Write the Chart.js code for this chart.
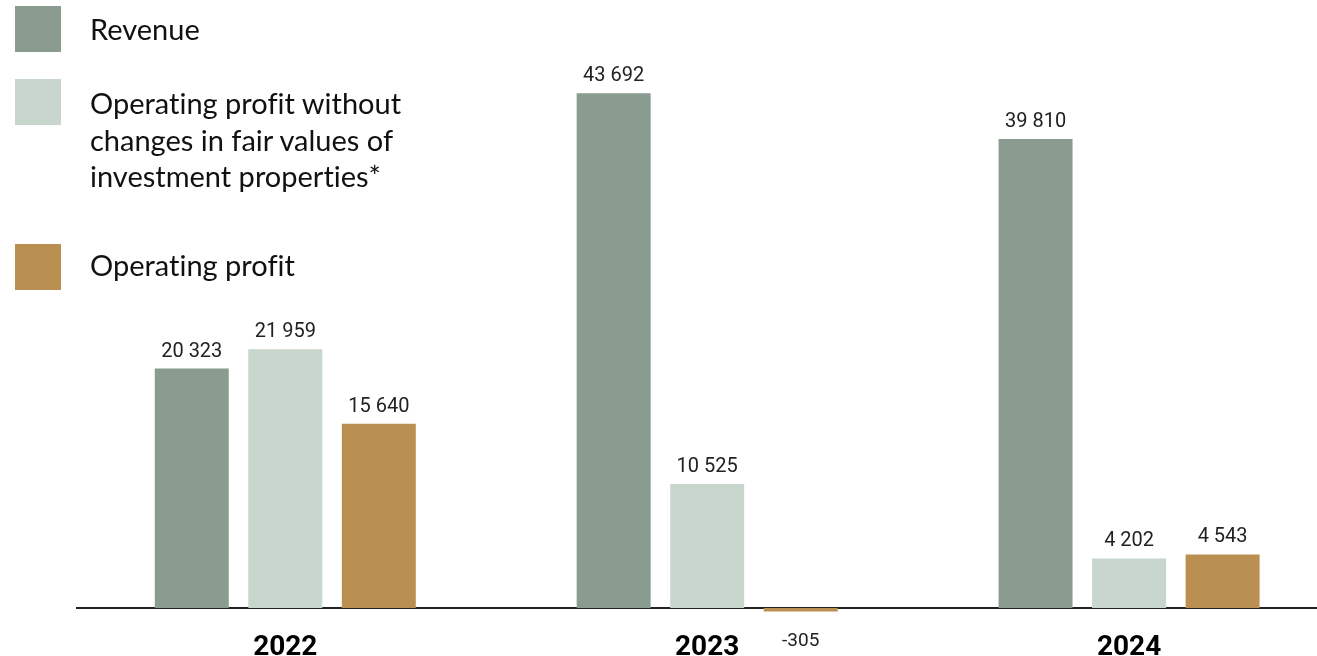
<!DOCTYPE html>
<html lang="en">
<head>
<meta charset="UTF-8">
<title>Revenue and operating profit</title>
<script src="https://cdn.jsdelivr.net/npm/chart.js"></script>
<style>
    html, body { margin: 0; padding: 0; background: #fff; overflow: hidden; }
    .wrap { position: relative; width: 1317px; height: 656px; }
    #legend { position: absolute; left: 0; top: 0; font-family: Lato, sans-serif; font-weight: 400;
              font-size: 29px; line-height: 36.7px; color: #111; font-variant-ligatures: none; }
    .box { position: absolute; left: 15px; width: 46px; height: 46px; }
    .txt { position: absolute; left: 90px; white-space: nowrap; }
    .item0 .box { top: 6px; }   .item0 .txt { top: 11px; }
    .item1 .box { top: 79px; }  .item1 .txt { top: 85px; }
    .item2 .box { top: 244px; } .item2 .txt { top: 247px; }
</style>
</head>
<body>
<div class="wrap">
    <canvas id="chart"></canvas>
    <div id="legend"></div>
</div>
<script>
    const years = ['2022', '2023', '2024'];
    const seriesNames = [
        'Revenue',
        ['Operating profit without', 'changes in fair values of', 'investment properties*'],
        'Operating profit'
    ];
    const revenue = [20323, 43692, 39810];
    const opProfitExFairValue = [21959, 10525, 4202];
    const opProfit = [15640, -305, 4543];

    function fmt(v) {
        return String(v).replace(/\B(?=(\d{3})+(?!\d))/g, ' ');
    }

    function points(arr) {
        return arr.map((v, i) => ({ x: i, y: v }));
    }

    // value above each bar, below for negatives
    const valueLabels = {
        id: 'valueLabels',
        afterDatasetsDraw(chart) {
            const ctx = chart.ctx;
            ctx.save();
            ctx.fillStyle = '#222';
            ctx.textAlign = 'center';
            chart.data.datasets.forEach((ds, di) => {
                chart.getDatasetMeta(di).data.forEach((bar, i) => {
                    const v = ds.data[i].y;
                    if (v >= 0) {
                        ctx.font = '20px Roboto';
                        ctx.textBaseline = 'alphabetic';
                        ctx.fillText(fmt(v), bar.x, bar.y - 12);
                    } else {
                        ctx.font = '19px Roboto';
                        ctx.textBaseline = 'top';
                        ctx.fillText(fmt(v), bar.x, bar.y + 20);
                    }
                });
            });
            ctx.restore();
        }
    };

    const myChart = new Chart(document.getElementById('chart'), {
        type: 'bar',
        data: {
            datasets: [
                { label: seriesNames[0], data: points(revenue), backgroundColor: '#8a9b8f', clip: false },
                { label: seriesNames[1], data: points(opProfitExFairValue), backgroundColor: '#c8d6cd', clip: false },
                { label: seriesNames[2], data: points(opProfit), backgroundColor: '#b98f52', clip: false }
            ]
        },
        options: {
            responsive: true,
            maintainAspectRatio: false,
            animation: false,
            layout: { padding: { left: 77, right: 0, top: 0, bottom: 0 } },
            categoryPercentage: 0.665,
            barPercentage: 0.791,
            plugins: {
                legend: { display: false },
                tooltip: { enabled: false }
            },
            scales: {
                x: {
                    type: 'linear',
                    min: -0.4937,
                    max: 2.4454,
                    offset: false,
                    z: 1,
                    grid: { display: false, drawTicks: false, offset: false },
                    border: { display: true, color: '#222', width: 2 },
                    ticks: {
                        padding: 23,
                        color: '#000',
                        font: { family: 'Roboto', size: 28, weight: 'bold' },
                        callback: v => years[v] ?? ''
                    },
                    afterBuildTicks: s => { s.ticks = years.map((y, i) => ({ value: i })); },
                    afterFit: s => { s.height = 48; }
                },
                y: { display: false, min: 0, max: 51600 }
            }
        },
        plugins: [valueLabels]
    });

    // html legend, from the datasets
    const legend = document.getElementById('legend');
    myChart.data.datasets.forEach((ds, i) => {
        const item = document.createElement('div');
        item.className = 'item item' + i;
        const lines = Array.isArray(ds.label) ? ds.label : [ds.label];
        item.innerHTML = '<div class="box" style="background:' + ds.backgroundColor + '"></div>' +
            '<div class="txt">' + lines.join('<br>') + '</div>';
        legend.appendChild(item);
    });
</script>
</body>
</html>
